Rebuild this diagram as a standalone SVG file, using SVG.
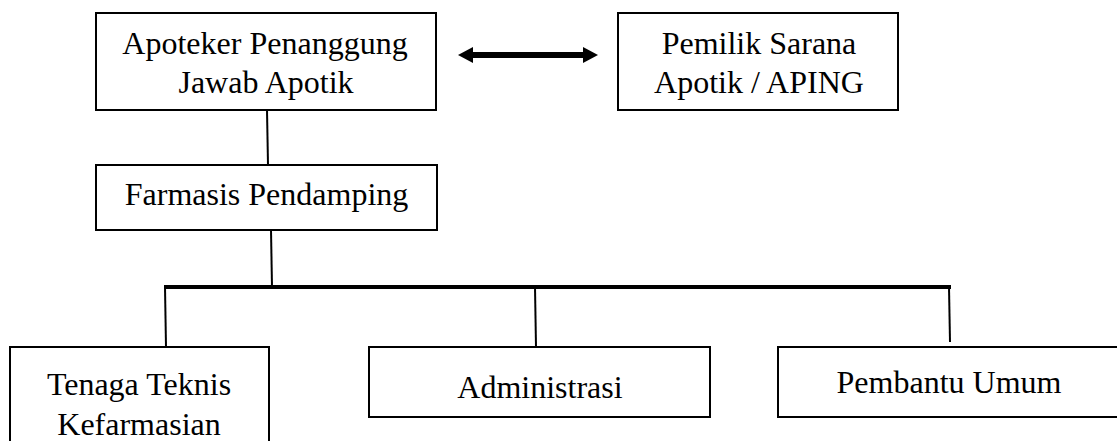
<svg xmlns="http://www.w3.org/2000/svg" width="1117" height="441" viewBox="0 0 1117 441">
  <style>
    .box { fill: #ffffff; stroke: #000000; stroke-width: 2; }
    .lbl { font-family: "Liberation Serif", "Times New Roman", serif; font-size: 32px; fill: #000000; text-anchor: middle; }
    .ln { stroke: #000000; stroke-width: 2; fill: none; }
    .bus { stroke: #000000; stroke-width: 4; fill: none; }
  </style>
  <rect width="1117" height="441" fill="#ffffff"/>
  <g id="connectors">
    <line class="ln" x1="267" y1="110" x2="268" y2="165"/>
    <line class="ln" x1="271" y1="230" x2="272" y2="287"/>
    <line class="bus" x1="164" y1="287" x2="951" y2="287"/>
    <line class="ln" x1="165" y1="287" x2="166" y2="347"/>
    <line class="ln" x1="535" y1="287" x2="536" y2="347"/>
    <line class="ln" x1="949" y1="287" x2="950" y2="342"/>
    <g id="bidirectional-arrow">
      <rect x="472" y="52" width="112" height="6" fill="#000000"/>
      <polygon points="458,55 473,47 473,63" fill="#000000"/>
      <polygon points="598,55 583,47 583,63" fill="#000000"/>
    </g>
  </g>
  <g id="apoteker">
    <rect class="box" x="96" y="13" width="340" height="97"/>
    <text class="lbl" x="265" y="54">Apoteker Penanggung</text>
    <text class="lbl" x="266" y="93">Jawab Apotik</text>
  </g>
  <g id="pemilik">
    <rect class="box" x="618" y="13" width="280" height="97"/>
    <text class="lbl" x="759" y="54">Pemilik Sarana</text>
    <text class="lbl" x="759" y="93">Apotik / APING</text>
  </g>
  <g id="farmasis">
    <rect class="box" x="96" y="165" width="341" height="65"/>
    <text class="lbl" x="266.5" y="205">Farmasis Pendamping</text>
  </g>
  <g id="tenaga">
    <rect class="box" x="10" y="347" width="259" height="110"/>
    <text class="lbl" x="139" y="395">Tenaga Teknis</text>
    <text class="lbl" x="139" y="435">Kefarmasian</text>
  </g>
  <g id="administrasi">
    <rect class="box" x="369" y="347" width="341" height="70"/>
    <text class="lbl" x="540" y="398">Administrasi</text>
  </g>
  <g id="pembantu">
    <rect class="box" x="778" y="347" width="350" height="70"/>
    <text class="lbl" x="949" y="393">Pembantu Umum</text>
  </g>
</svg>
